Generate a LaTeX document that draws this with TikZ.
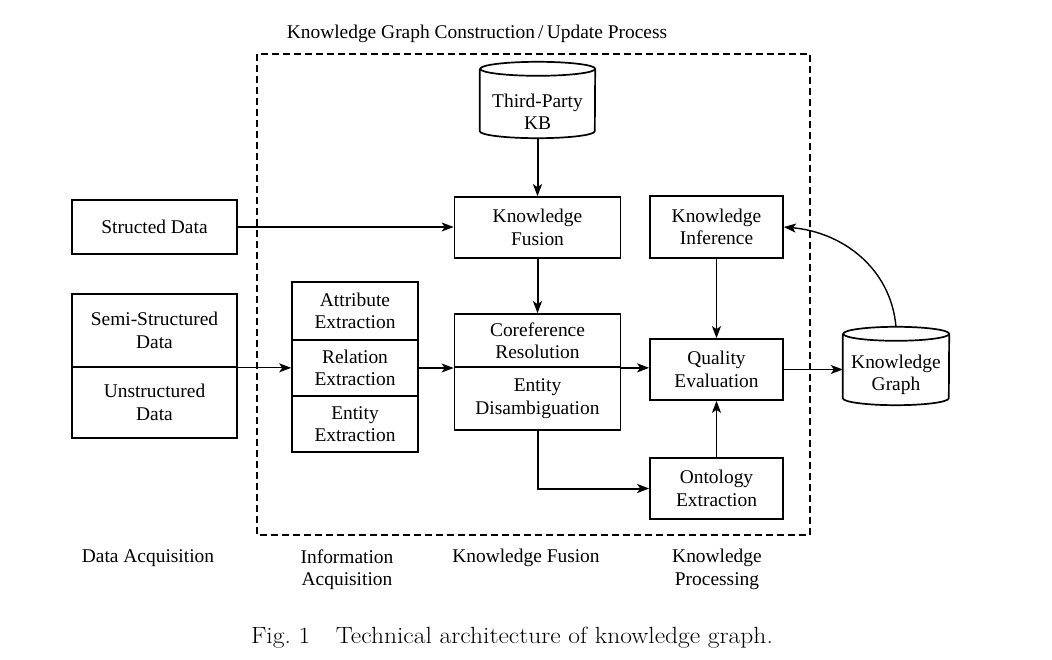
\documentclass[tikz,border=0pt]{standalone}
\usepackage{fontspec}
\usepackage{graphicx}
\newfontfamily\tnr{Liberation Serif}
\usetikzlibrary{arrows.meta,calc}
\begin{document}
\begin{tikzpicture}[x=1bp,y=-1bp,
  txt/.style={font=\tnr\fontsize{19.5}{22.5}\selectfont, align=center, inner sep=0pt},
  box/.style={txt, draw, line width=1.7bp},
  ghost/.style={inner sep=0pt},
  tip/.style={-{Stealth[length=12bp,width=9bp,inset=3bp]}},
  thinarrow/.style={tip, line width=1.1bp},
  thickarrow/.style={tip, line width=2bp},
  frame/.style={line width=1.3bp, dash pattern=on 7bp off 4bp}
]
\useasboundingbox (0,0) rectangle (1052,660);
% title and frame
\node[txt] (title) at (477,34) {Knowledge Graph Construction\,/\,Update Process};
\draw[frame] (257,54) rectangle (810,535);
% data acquisition
\node[box, minimum width=165bp, minimum height=54bp] (sd) at (154.5,227) {Structed Data};
\node[box, minimum width=165bp, minimum height=73bp] (semi) at (154.5,330.5) {Semi-Structured\\Data};
\node[box, minimum width=165bp, minimum height=71bp] (unst) at (154.5,402.5) {Unstructured\\Data};
% information acquisition
\node[box, minimum width=126bp, minimum height=58bp] (attr) at (355,311) {Attribute\\Extraction};
\node[box, minimum width=126bp, minimum height=56bp] (rel) at (355,368) {Relation\\Extraction};
\node[box, minimum width=126bp, minimum height=56bp] (ent) at (355,424) {Entity\\Extraction};
% knowledge fusion
\node[ghost, minimum width=115bp, minimum height=76bp] (kb) at (537.5,100) {};
\draw[line width=1.7bp] ([yshift=-7bp]kb.north west) -- ([yshift=7bp]kb.south west)
  arc[start angle=180, end angle=360, x radius=57.5bp, y radius=7bp]
  -- ([yshift=-7bp]kb.north east)
  arc[start angle=0, end angle=360, x radius=57.5bp, y radius=7bp];
\node[txt] (kbt) at (537.5,111.5) {Third-Party\\KB};
\node[box, minimum width=166bp, minimum height=61bp] (kf) at (537.5,227.5) {Knowledge\\Fusion};
\node[box, minimum width=166bp, minimum height=53bp] (coref) at (537.5,340.5) {Coreference\\Resolution};
\node[box, minimum width=166bp, minimum height=63bp] (dis) at (537.5,398.5) {Entity\\Disambiguation};
% knowledge processing
\node[box, minimum width=133bp, minimum height=62bp] (ki) at (716.5,227) {Knowledge\\Inference};
\node[box, minimum width=133bp, minimum height=61bp] (qe) at (716.5,369.5) {Quality\\Evaluation};
\node[box, minimum width=133bp, minimum height=61bp] (oe) at (716.5,488.5) {Ontology\\Extraction};
% knowledge graph
\node[ghost, minimum width=106bp, minimum height=78bp] (kg) at (896,366) {};
\draw[line width=1.7bp] ([yshift=-7bp]kg.north west) -- ([yshift=7bp]kg.south west)
  arc[start angle=180, end angle=360, x radius=53bp, y radius=7bp]
  -- ([yshift=-7bp]kg.north east)
  arc[start angle=0, end angle=360, x radius=53bp, y radius=7bp];
\node[txt] (kgt) at (896,375) {Knowledge\\Graph};
% connectors
\draw[thinarrow] (sd.east) -- (sd.east -| kf.west);
\draw[thickarrow] (kb.south) -- (kf.north);
\draw[thickarrow] (kf.south) -- (coref.north);
\draw[thinarrow] (semi.south east) -- (semi.south east -| rel.west);
\draw[thinarrow] (rel.east) -- (rel.east -| coref.west);
\draw[thickarrow] (coref.south east) -- (coref.south east -| qe.west);
\draw[thickarrow] (dis.south) |- (oe.west);
\draw[thinarrow] (ki.south) -- (qe.north);
\draw[thinarrow] (oe.north) -- (qe.south);
\draw[thinarrow] (qe.east) -- (qe.east -| kg.west);
\draw[tip, line width=1.4bp] (kg.north) to[out=95, in=-5] (ki.east);
% stage labels
\node[txt] (lda) at (148,558) {Data Acquisition};
\node[txt] (lia) at (347,569.5) {Information\\Acquisition};
\node[txt] (lkf) at (526,558) {Knowledge Fusion};
\node[txt] (lkp) at (717,569.5) {Knowledge\\Processing};
% caption
\node[font=\fontsize{23.5}{27}\selectfont, inner sep=0pt, anchor=base] (cap) at (512,643) {\scalebox{1.09}[1]{Fig.~1\quad Technical architecture of knowledge graph.}};
\end{tikzpicture}
\end{document}
